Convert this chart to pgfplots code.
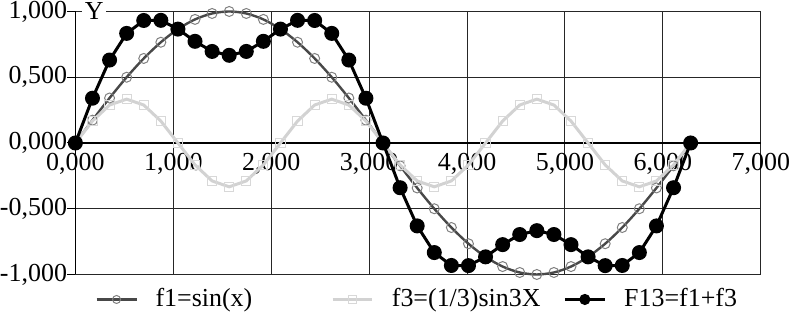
\documentclass[border=0pt]{standalone}
\usepackage{fontspec}
\setmainfont{Liberation Serif}
\usepackage{pgfplots}
\usepackage{pgfplotstable}
\pgfplotsset{compat=1.18}
\definecolor{fone}{HTML}{484848}
\definecolor{foneM}{HTML}{808080}
\definecolor{fthree}{HTML}{D2D2D2}
\definecolor{fthreeM}{HTML}{D8D8D8}
\pgfplotstableread{
x f1 f3 F13
0.0000 0.0000 0.0000 0.0000
0.1745 0.1736 0.1667 0.3403
0.3491 0.3420 0.2887 0.6307
0.5236 0.5000 0.3333 0.8333
0.6981 0.6428 0.2887 0.9315
0.8727 0.7660 0.1667 0.9327
1.0472 0.8660 0.0000 0.8660
1.2217 0.9397 -0.1667 0.7730
1.3963 0.9848 -0.2887 0.6961
1.5708 1.0000 -0.3333 0.6667
1.7453 0.9848 -0.2887 0.6961
1.9199 0.9397 -0.1667 0.7730
2.0944 0.8660 0.0000 0.8660
2.2689 0.7660 0.1667 0.9327
2.4435 0.6428 0.2887 0.9315
2.6180 0.5000 0.3333 0.8333
2.7925 0.3420 0.2887 0.6307
2.9671 0.1736 0.1667 0.3403
3.1416 0.0000 0.0000 0.0000
3.3161 -0.1736 -0.1667 -0.3403
3.4907 -0.3420 -0.2887 -0.6307
3.6652 -0.5000 -0.3333 -0.8333
3.8397 -0.6428 -0.2887 -0.9315
4.0143 -0.7660 -0.1667 -0.9327
4.1888 -0.8660 0.0000 -0.8660
4.3633 -0.9397 0.1667 -0.7730
4.5379 -0.9848 0.2887 -0.6961
4.7124 -1.0000 0.3333 -0.6667
4.8869 -0.9848 0.2887 -0.6961
5.0615 -0.9397 0.1667 -0.7730
5.2360 -0.8660 0.0000 -0.8660
5.4105 -0.7660 -0.1667 -0.9327
5.5851 -0.6428 -0.2887 -0.9315
5.7596 -0.5000 -0.3333 -0.8333
5.9341 -0.3420 -0.2887 -0.6307
6.1087 -0.1736 -0.1667 -0.3403
6.2832 0.0000 0.0000 0.0000
}\datatable
\begin{document}
\fontsize{13}{15.5}\selectfont
\begin{tikzpicture}
\begin{axis}[
  scale only axis, width=343.5pt, height=131.8pt,
  xmin=0, xmax=7, ymin=-1, ymax=1,
  axis x line=middle, axis y line=left,
  axis line style={-, black, line width=0.6pt},
  hide obscured x ticks=false, hide obscured y ticks=false,
  xtick={0,1,2,3,4,5,6,7}, ytick={-1,-0.5,0,0.5,1},
  grid=major, major grid style={black!85, line width=0.5pt},
  tick align=outside, major tick length=4pt,
  xtick style={draw=none},
  ytick style={black, line width=0.5pt},
  /pgf/number format/fixed, /pgf/number format/fixed zerofill,
  /pgf/number format/precision=3, /pgf/number format/use comma,
  /pgf/number format/1000 sep={}, /pgf/number format/assume math mode=true,
  xticklabel style={anchor=north, inner sep=0pt, yshift=-1pt},
  yticklabel style={anchor=east, inner sep=0pt},
  ylabel={Y},
  every axis y label/.style={at={(rel axis cs:0,1)}, anchor=west, fill=white, inner sep=1.5pt, xshift=3pt},
  clip=false,
  legend columns=3,
  legend image code/.code={\draw[mark repeat=2, mark phase=2, #1] plot coordinates {(0cm,0cm) (0.35cm,0cm) (0.7cm,0cm)};},
  legend image post style={mark size=2pt},
  legend style={draw=none, fill=none, at={(0.02,-0.095)}, anchor=west,
    /tikz/every odd column/.append style={column sep=7pt}},
]
\addplot[color=fone, line width=1.2pt, smooth, mark=o, mark size=2.5pt,
  mark options={draw=foneM, line width=0.5pt, solid}] table[x=x, y=f1] {\datatable};
\addlegendentry{\makebox[86pt][l]{f1=sin(x)}}
\addplot[color=fthree, line width=1.5pt, mark=square, mark size=2.3pt,
  mark options={draw=fthreeM, line width=0.5pt, solid}] table[x=x, y=f3] {\datatable};
\addlegendentry{\makebox[84pt][l]{f3=(1/3)sin3X}}
\addplot[color=black, line width=1.5pt, mark=*, mark size=3pt] table[x=x, y=F13] {\datatable};
\addlegendentry{F13=f1+f3}
\end{axis}
\end{tikzpicture}
\end{document}
